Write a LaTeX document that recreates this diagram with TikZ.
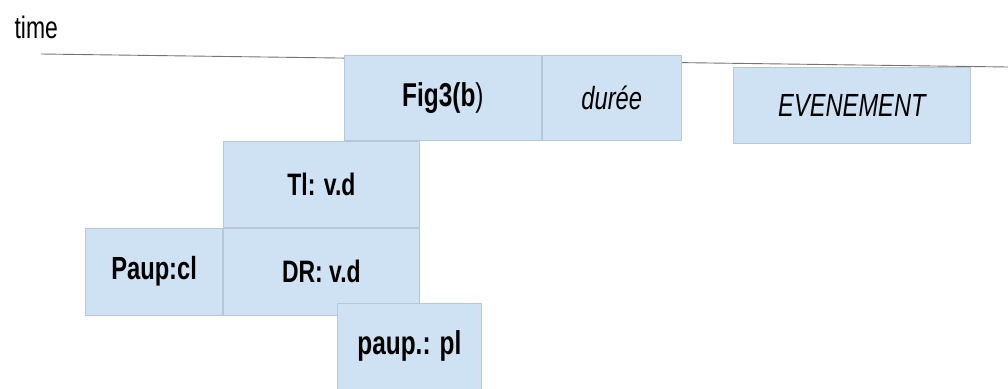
\documentclass[tikz,border=0pt]{standalone}
\usepackage{fontspec}
\setmainfont{Liberation Sans}[FakeStretch=0.74]
\usetikzlibrary{positioning}
\definecolor{cellfill}{HTML}{CFE2F3}
\definecolor{cellline}{HTML}{B6C8D5}
\newcommand{\fsz}[1]{\fontsize{#1}{#1}\selectfont}
\tikzset{
  cell/.style={draw=cellline,fill=cellfill,line width=0.8pt,inner sep=0pt,anchor=north west},
  axisline/.style={draw=black!55,line width=0.9pt}
}
\begin{document}
\begin{tikzpicture}[x=1pt,y=-1pt,line join=round]
		\useasboundingbox (0,0) rectangle (1008,388);
		%==time axis
		\coordinate (T0) at (41,54);
		\coordinate (T1) at (1008,67);
		\draw[axisline] (T0)--(T1);
		\node[anchor=base west,font=\fsz{31}] (time) at (11,38) {time};
		%==top row
		\node[cell,minimum width=197pt,minimum height=85pt,font=\fsz{33}] (fig) at (344,55) {\bfseries Fig3(b\mdseries)};
		\node[cell,minimum width=139pt,minimum height=85pt,font=\itshape\fsz{32}] (duree) at (fig.north east) {durée};
		\node[cell,minimum width=237pt,minimum height=76pt,font=\itshape\fsz{32}] (evt) at (733,67) {EVENEMENT};
		%==lower rows
		\node[cell,minimum width=196pt,minimum height=86pt,font=\bfseries\fsz{31}] (ti) at (223,141) {Tl: v.d};
		\node[cell,minimum width=196pt,minimum height=87pt,font=\bfseries\fsz{31},anchor=north west] (dr) at (ti.south west) {DR: v.d};
		\node[cell,minimum width=137pt,minimum height=87pt,font=\bfseries\fsz{32},anchor=north east] (paupcl) at (dr.north west) {Paup:cl};
		\node[cell,minimum width=144pt,minimum height=86pt,font=\bfseries\fsz{33}] (pauppl) at (337,303) {paup.: pl};
		\end{tikzpicture}
\end{document}
